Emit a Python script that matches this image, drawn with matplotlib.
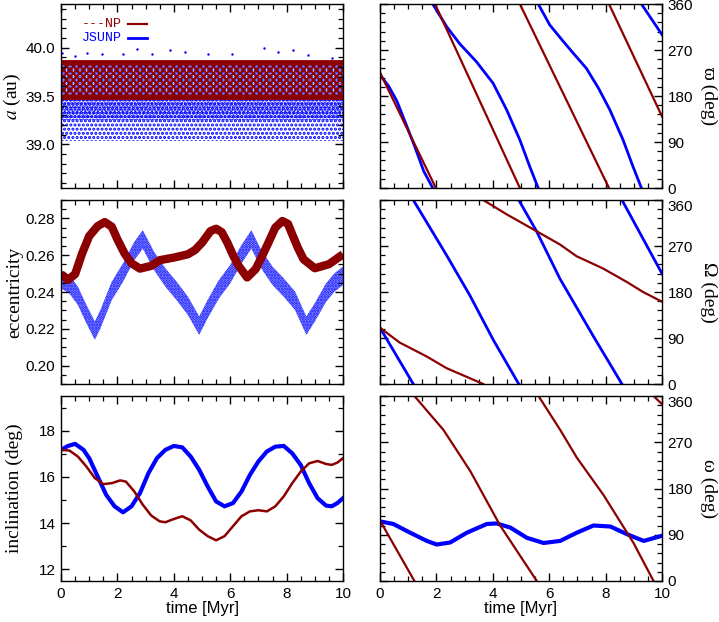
import numpy as np
import matplotlib
matplotlib.use("Agg")
import matplotlib.pyplot as plt
from matplotlib.ticker import MultipleLocator, FormatStrFormatter

nan = np.nan
RED = "#8b0000"
BLUE = "#0000ff"

# ---------------- data ----------------
# semi-major axis (au): NP band limits, JSUNP cloud limits, JSUNP outliers
a_t = [0, 10]
a_np_low = [39.49, 39.49]
a_np_high = [39.855, 39.855]
a_js_low = [39.04, 39.04]
a_js_high = [39.47, 39.47]
a_js_dense_low = [39.25, 39.25]
a_js_out_t = [0.02, 0.5, 0.91, 1.44, 2.20, 2.68, 3.22, 3.87, 4.40, 5.21, 6.05, 7.20, 7.68, 8.22, 8.75, 9.60]
a_js_out_v = [39.947, 39.91, 39.947, 39.936, 39.936, 39.982, 39.929, 39.971, 39.957, 39.929, 39.929, 40.0, 39.957, 39.971, 39.922, 39.894]

# eccentricity
e_np_t = [0, 0.25, 0.5, 0.75, 1.0, 1.3, 1.55, 1.8, 2.0, 2.25, 2.5, 2.8, 3.2, 3.5, 4.0, 4.5, 4.75, 5.0, 5.3, 5.5, 5.7, 5.9, 6.1, 6.3, 6.6, 6.9, 7.1, 7.3, 7.6, 7.85, 8.05, 8.2, 8.4, 8.6, 9.0, 9.5, 10]
e_np_v = [0.2497, 0.2466, 0.2497, 0.2610, 0.2704, 0.2758, 0.2780, 0.2755, 0.2686, 0.2610, 0.2556, 0.2527, 0.2542, 0.2573, 0.2587, 0.2605, 0.2628, 0.2668, 0.2731, 0.2744, 0.2725, 0.2668, 0.2600, 0.2542, 0.2479, 0.2524, 0.2585, 0.2650, 0.2750, 0.2786, 0.2770, 0.2713, 0.2640, 0.2578, 0.2529, 0.2551, 0.2605]
e_js_t = [0, 0.3, 0.6, 0.9, 1.2, 1.4, 1.8, 2.2, 2.6, 2.9, 3.3, 3.7, 4.1, 4.5, 4.9, 5.2, 5.6, 6.0, 6.4, 6.75, 7.1, 7.5, 7.9, 8.3, 8.7, 9.0, 9.4, 9.7, 10]
e_js_v = [0.2470, 0.2442, 0.2379, 0.2280, 0.2190, 0.2253, 0.2406, 0.2506, 0.2623, 0.2686, 0.2569, 0.2479, 0.2406, 0.2325, 0.2217, 0.2307, 0.2415, 0.2497, 0.2605, 0.2686, 0.2578, 0.2488, 0.2424, 0.2352, 0.2217, 0.2289, 0.2397, 0.2452, 0.2488]
e_js_spread = 0.005

# inclination (deg)
i_js_t = [0, 0.25, 0.5, 0.8, 1.0, 1.3, 1.6, 1.9, 2.2, 2.5, 2.8, 3.1, 3.4, 3.7, 4.0, 4.3, 4.6, 4.9, 5.2, 5.5, 5.8, 6.1, 6.4, 6.7, 7.0, 7.3, 7.6, 7.9, 8.2, 8.5, 8.8, 9.1, 9.4, 9.6, 9.8, 10]
i_js_v = [17.17, 17.34, 17.43, 17.17, 16.81, 16.02, 15.23, 14.73, 14.47, 14.73, 15.30, 16.16, 16.81, 17.17, 17.34, 17.28, 16.88, 16.31, 15.59, 14.94, 14.73, 14.87, 15.37, 16.09, 16.67, 17.10, 17.31, 17.34, 17.02, 16.52, 15.73, 15.08, 14.76, 14.73, 14.87, 15.08]
i_np_t = [0, 0.3, 0.6, 0.9, 1.2, 1.5, 1.8, 2.1, 2.3, 2.6, 2.9, 3.2, 3.5, 3.7, 4.0, 4.3, 4.6, 4.9, 5.2, 5.5, 5.8, 6.1, 6.4, 6.7, 7.0, 7.3, 7.6, 7.9, 8.2, 8.5, 8.8, 9.1, 9.4, 9.6, 9.8, 10]
i_np_v = [17.17, 17.14, 16.88, 16.45, 15.95, 15.69, 15.73, 15.85, 15.80, 15.37, 14.80, 14.33, 14.08, 14.04, 14.18, 14.30, 14.12, 13.72, 13.44, 13.26, 13.44, 13.87, 14.30, 14.51, 14.56, 14.51, 14.73, 15.16, 15.73, 16.23, 16.59, 16.69, 16.56, 16.52, 16.62, 16.81]

# longitude of perihelion (deg), wrapped, NaN separates branches
varpi_np_t = [0, 1.98, nan, 1.95, 4.96, nan, 4.96, 8.12, nan, 8.12, 10]
varpi_np_v = [226, 0, nan, 360, 0, nan, 360, 0, nan, 360, 140]
varpi_js_t = [0, 0.3, 0.6, 0.9, 1.24, 1.55, 1.87, nan,
              1.87, 2.36, 2.83, 3.42, 4.01, 4.49, 4.96, 5.31, 5.61, nan,
              5.61, 6.02, 6.45, 6.85, 7.32, 7.75, 8.15, 8.62, 8.95, 9.27, nan,
              9.27, 10]
varpi_js_v = [221, 200, 170, 128, 80, 33, 0, nan,
              360, 316, 282, 247, 205, 153, 94, 42, 0, nan,
              360, 319, 290, 264, 234, 195, 153, 94, 45, 0, nan,
              360, 300]

# longitude of node (deg)
node_np_t = [0, 0.7, 1.65, 2.36, 3.66, nan, 3.66, 4.49, 5.55, 6.38, 6.97, 7.91, 8.74, 9.33, 10]
node_np_v = [110, 81, 54, 31, 0, nan, 360, 332, 299, 273, 250, 226, 200, 180, 161]
node_js_t = [0, 1.18, nan, 1.18, 2.36, 3.19, 4.01, 4.92, nan, 4.92, 5.55, 6.38, 7.56, 8.58, nan, 8.58, 10]
node_js_v = [110, 0, nan, 360, 252, 173, 87, 0, nan, 360, 299, 206, 94, 0, nan, 360, 216]

# argument of perihelion (deg)
argp_np_t = [0, 1.22, nan, 1.22, 2.25, 3.20, 4.26, 5.56, nan, 5.62, 6.39, 6.98, 7.93, 8.99, 9.70, nan, 9.70, 10]
argp_np_v = [117.6, 0, nan, 360, 294, 214, 108, 0, nan, 360, 294, 240, 167, 74, 0, nan, 360, 344]
argp_js_t = [0, 0.47, 1.07, 1.66, 2.01, 2.49, 3.08, 3.79, 4.14, 4.62, 5.21, 5.80, 6.39, 6.98, 7.57, 8.17, 8.76, 9.35, 10]
argp_js_v = [116, 111, 94, 78, 71, 75, 94, 111, 112, 104, 84, 74, 78, 94, 108, 106, 91, 78, 88]

# ---------------- figure ----------------
plt.rcParams["hatch.linewidth"] = 1.5
plt.rcParams["mathtext.fontset"] = "stix"
W, H = 719, 622
fig = plt.figure(figsize=(W / 100, H / 100), dpi=100)

def box(x0, y0, x1, y1):
    return [x0 / W, 1 - y1 / H, (x1 - x0) / W, (y1 - y0) / H]

rows = [(4, 188), (200, 384), (396, 581)]
axL = [fig.add_axes(box(61, r0, 343, r1)) for r0, r1 in rows]
axR = [fig.add_axes(box(380, r0, 662, r1)) for r0, r1 in rows]

serif = ["Liberation Serif", "DejaVu Serif"]
sans = ["Liberation Sans", "DejaVu Sans"]
mono = ["Liberation Mono", "DejaVu Sans Mono"]

for ax in axL + axR:
    ax.set_xlim(0, 10)
    ax.xaxis.set_major_locator(MultipleLocator(2))
    ax.xaxis.set_minor_locator(MultipleLocator(0.5))
    ax.tick_params(which="both", direction="in", top=True, bottom=True, left=True, right=True)
    ax.tick_params(which="major", length=6, width=1, labelsize=11, pad=4)
    ax.tick_params(which="minor", length=3.5, width=0.9)
    for s in ax.spines.values():
        s.set_linewidth(1.0)

for ax in axR:
    ax.set_ylim(0, 360)
    ax.yaxis.set_major_locator(MultipleLocator(90))
    ax.yaxis.set_minor_locator(MultipleLocator(18))
    ax.tick_params(axis="y", which="both", labelleft=False, labelright=True)
    ax.yaxis.set_label_position("right")

for ax in axL[:2] + axR[:2]:
    ax.tick_params(axis="x", labelbottom=False)

for ax in (axL[2], axR[2]):
    ax.set_xlabel("time [Myr]", fontsize=12, family=sans, labelpad=0)

# --- a panel ---
ax = axL[0]
ax.set_ylim(38.55, 40.45)
ax.yaxis.set_major_locator(MultipleLocator(0.5))
ax.yaxis.set_minor_locator(MultipleLocator(0.1))
ax.yaxis.set_major_formatter(FormatStrFormatter("%.1f"))
ax.fill_between(a_t, a_js_low, a_js_high, facecolor="none", edgecolor=BLUE, hatch="....", linewidth=0)
ax.fill_between(a_t, a_js_dense_low, a_np_high, facecolor="none", edgecolor=BLUE, hatch=".....", linewidth=0)
ax.scatter(a_js_out_t, a_js_out_v, s=3, color=BLUE, linewidths=0)
ax.fill_between(a_t, a_np_low, a_np_high, facecolor="none", edgecolor=RED, hatch="xxxxx", linewidth=0)
ax.plot(a_t, a_np_high, color=RED, lw=3.5)
ax.plot(a_t, a_np_low, color=RED, lw=3.5)
ax.set_ylabel("$a$ (au)", fontsize=14, family=serif)
ax.text(0.073, 0.89, "---NP", transform=ax.transAxes, color=RED, family=mono,
        fontsize=9.5, va="center", ha="left")
ax.plot([0.238, 0.305], [0.89, 0.89], transform=ax.transAxes, color=RED, lw=1.6)
ax.text(0.073, 0.817, "JSUNP", transform=ax.transAxes, color=BLUE, family=mono,
        fontsize=9.5, va="center", ha="left")
ax.plot([0.238, 0.305], [0.817, 0.817], transform=ax.transAxes, color=BLUE, lw=2)

# --- eccentricity ---
ax = axL[1]
ax.set_ylim(0.19, 0.29)
ax.yaxis.set_major_locator(MultipleLocator(0.02))
ax.yaxis.set_minor_locator(MultipleLocator(0.005))
ax.yaxis.set_major_formatter(FormatStrFormatter("%.2f"))
ejs = np.array(e_js_v)
ax.fill_between(e_js_t, ejs - e_js_spread, ejs + e_js_spread, facecolor="#aab1ff", edgecolor=BLUE,
                hatch="......", linewidth=0)
ax.plot(e_np_t, e_np_v, color=RED, lw=6, solid_capstyle="butt", solid_joinstyle="round")
ax.set_ylabel("eccentricity", fontsize=14, family=serif)

# --- inclination ---
ax = axL[2]
ax.set_ylim(11.5, 19.5)
ax.yaxis.set_major_locator(MultipleLocator(2))
ax.yaxis.set_minor_locator(MultipleLocator(1))
ax.plot(i_js_t, i_js_v, color=BLUE, lw=3, solid_joinstyle="round")
ax.plot(i_np_t, i_np_v, color=RED, lw=1.8, solid_joinstyle="round")
ax.set_ylabel("inclination (deg)", fontsize=14, family=serif)

for ax in axL:
    ax.yaxis.set_label_coords(-0.135, 0.5)

# --- angles ---
axR[0].plot(varpi_js_t, varpi_js_v, color=BLUE, lw=2)
axR[0].plot(varpi_np_t, varpi_np_v, color=RED, lw=1.6)
axR[0].set_ylabel("ϖ (deg)", fontsize=14, family=serif, rotation=270)

axR[1].plot(node_js_t, node_js_v, color=BLUE, lw=2)
axR[1].plot(node_np_t, node_np_v, color=RED, lw=1.6)
axR[1].set_ylabel("Ω (deg)", fontsize=14, family=serif, rotation=270)

axR[2].plot(argp_js_t, argp_js_v, color=BLUE, lw=3, solid_joinstyle="round")
axR[2].plot(argp_np_t, argp_np_v, color=RED, lw=1.6)
axR[2].set_ylabel("ω (deg)", fontsize=14, family=serif, rotation=270)

for ax in axR:
    ax.yaxis.set_label_coords(1.195, 0.5)

for ax in axL + axR:
    for lab in ax.get_xticklabels() + ax.get_yticklabels():
        lab.set_family(sans)

fig.canvas.draw()
for ax in axR[1:]:
    for tk in ax.yaxis.get_major_ticks():
        if abs(tk.get_loc() - 360) < 1e-6:
            tk.label2.set_verticalalignment("top")

fig.savefig("out.png", dpi=100)
